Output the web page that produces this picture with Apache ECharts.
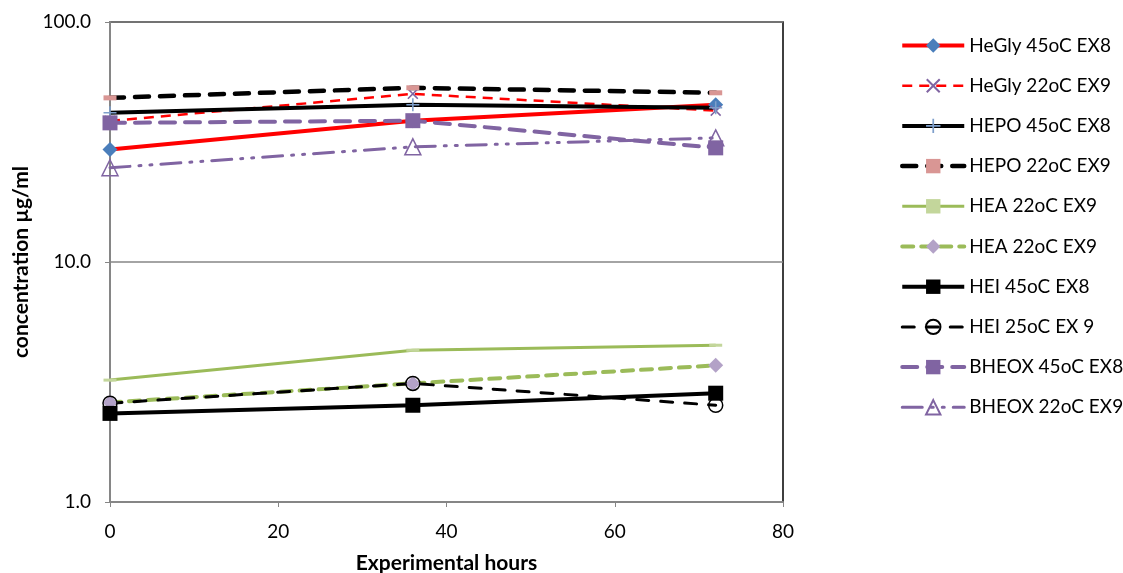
<!DOCTYPE html>
<html>
<head>
<meta charset="utf-8">
<script src="https://cdn.jsdelivr.net/npm/echarts@6/dist/echarts.min.js"></script>
<style>
  html, body { margin: 0; padding: 0; background: #fff; }
  #chart { width: 1123px; height: 573px; }
</style>
</head>
<body>
<div id="chart"></div>
<script>
// data
const hours = [0, 36, 72];
const heGly45 = [29.4, 38.8, 45.2];
const heGly22 = [38.7, 50.2, 42.7];
const hepo45 = [41.9, 45.2, 43.9];
const hepo22 = [48.3, 53.2, 50.7];
const hea22a = [3.22, 4.29, 4.50];
const hea22b = [2.60, 3.12, 3.71];
const hei45 = [2.34, 2.53, 2.84];
const hei25 = [2.58, 3.12, 2.53];
const bheox45 = [38.0, 38.8, 29.9];
const bheox22 = [24.7, 30.2, 32.9];
const xTicks = [0, 20, 40, 60, 80];

const FONT = 'Lato, "Open Sans", sans-serif';

// symbol shapes
const xMark = 'path://M0,1 L1,0 L5,4 L9,0 L10,1 L6,5 L10,9 L9,10 L5,6 L1,10 L0,9 L4,5 Z';
const plusMark = 'path://M4.4,0 H5.6 V4.4 H10 V5.6 H5.6 V10 H4.4 V5.6 H0 V4.4 H4.4 Z';

function pts(arr) {
  return hours.map(function (h, i) { return [h, arr[i]]; });
}

function mk(name, arr, line, symbol, size, item) {
  return {
    name: name,
    type: 'line',
    data: pts(arr),
    symbol: symbol,
    symbolSize: size,
    showSymbol: true,
    lineStyle: line,
    itemStyle: item,
    emphasis: { disabled: true }
  };
}

window.onload = function () {
  let chart = echarts.init(document.getElementById('chart'));

  let series = [
    mk('HeGly 45oC EX8', heGly45, { color: '#FF0000', width: 4, type: 'solid' },
      'diamond', 15, { color: '#4A7EBB', borderWidth: 0 }),
    mk('HeGly 22oC EX9', heGly22, { color: '#FF0000', width: 2.5, type: [10, 7] },
      xMark, 11, { color: '#8064A2', borderWidth: 0 }),
    mk('HEPO 45oC EX8', hepo45, { color: '#000000', width: 4, type: 'solid' },
      plusMark, 13, { color: '#7E9FCB', borderWidth: 0 }),
    mk('HEPO 22oC EX9', hepo22, { color: '#000000', width: 4.5, type: [14, 11], cap: 'round' },
      'rect', [13, 5], { color: '#D99694', borderWidth: 0 }),
    mk('HEA 22oC EX9', hea22a, { color: '#9BBB59', width: 3, type: 'solid' },
      'rect', [13, 3], { color: '#C3D69B', borderWidth: 0 }),
    mk('HEA 22oC EX9 ', hea22b, { color: '#9BBB59', width: 4, type: [11, 8], cap: 'round' },
      'diamond', 15, { color: '#B3A2C7', borderWidth: 0 }),
    mk('HEI 45oC EX8', hei45, { color: '#000000', width: 4, type: 'solid' },
      'rect', 15, { color: '#000000', borderWidth: 0 }),
    mk('HEI 25oC EX 9', hei25, { color: '#000000', width: 3, type: [12, 12], cap: 'round' },
      'circle', 14, { color: 'rgba(255,255,255,0)', borderColor: '#000000', borderWidth: 1.5 }),
    mk('BHEOX 45oC EX8', bheox45, { color: '#8064A2', width: 4, type: [15, 10], cap: 'round' },
      'rect', 15, { color: '#8064A2', borderWidth: 0 }),
    mk('BHEOX 22oC EX9', bheox22, { color: '#8064A2', width: 3, type: [20, 9, 2, 9, 2, 9], cap: 'round' },
      'triangle', 16, { color: 'rgba(255,255,255,0)', borderColor: '#8064A2', borderWidth: 1.5 })
  ];

  let option = {
    animation: false,
    backgroundColor: '#ffffff',
    textStyle: { fontFamily: FONT },
    grid: {
      left: 110, right: 340, top: 22, bottom: 71,
      outerBoundsMode: 'none',
      containLabel: false,
      show: true, borderColor: '#000000', borderWidth: 1.5, backgroundColor: 'transparent'
    },
    legend: {
      orient: 'vertical',
      left: 895,
      top: 31,
      itemWidth: 62,
      itemHeight: 18,
      itemGap: 21.2,
      textStyle: { fontSize: 19, lineHeight: 18, color: '#000', fontFamily: FONT },
      data: series.map(function (s) {
        return { name: s.name, lineStyle: { width: s.lineStyle.width } };
      })
    },
    xAxis: {
      type: 'value',
      min: 0,
      max: 80,
      interval: 20,
      name: 'Experimental hours',
      nameLocation: 'middle',
      nameGap: 51,
      nameTextStyle: { fontSize: 21, fontWeight: 'bold', color: '#000', fontFamily: FONT },
      axisLine: { show: true, onZero: false, lineStyle: { color: '#868686', width: 2 } },
      axisTick: { show: true, inside: false, length: 5, lineStyle: { color: '#868686' } },
      axisLabel: {
        margin: 20, fontSize: 19, color: '#000', fontFamily: FONT,
        formatter: function (v) { return xTicks.indexOf(v) >= 0 ? String(v) : ''; }
      },
      splitLine: { show: false }
    },
    yAxis: {
      type: 'log',
      logBase: 10,
      min: 1,
      max: 100,
      name: 'concentration \u00b5g/ml',
      nameLocation: 'middle',
      nameRotate: 90,
      nameGap: 78,
      nameTextStyle: { fontSize: 21, fontWeight: 'bold', color: '#000', fontFamily: FONT },
      axisLine: { show: true, lineStyle: { color: '#868686', width: 2 } },
      axisTick: { show: true, inside: false, length: 5, lineStyle: { color: '#868686' } },
      axisLabel: {
        margin: 19, fontSize: 19, color: '#000', fontFamily: FONT,
        formatter: function (v) { return Number(v).toFixed(1); }
      },
      splitLine: { show: true, lineStyle: { color: '#868686', width: 1.5 } },
      minorTick: { show: false }
    },
    series: series
  };

  chart.setOption(option);
};
</script>
</body>
</html>
